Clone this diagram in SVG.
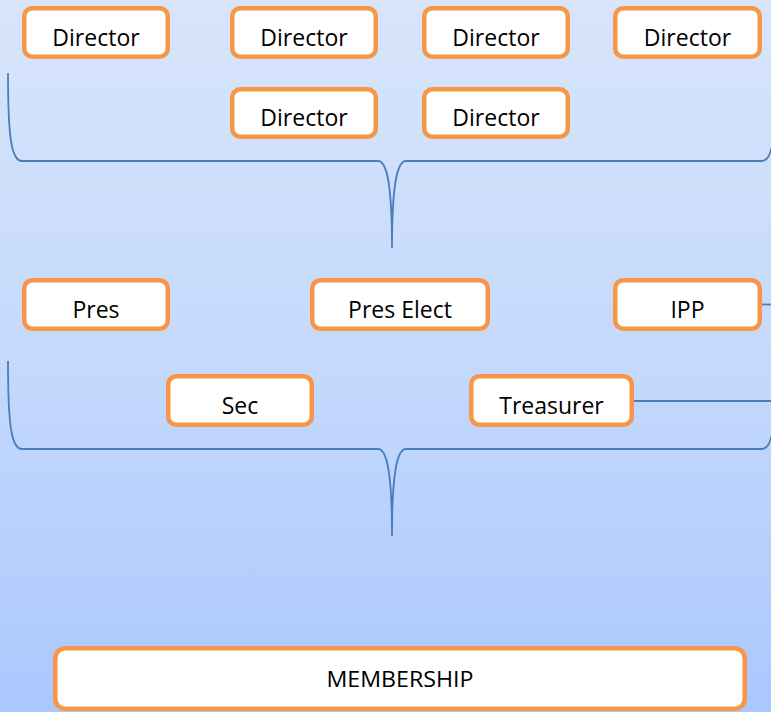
<svg xmlns="http://www.w3.org/2000/svg" width="771" height="712" viewBox="0 0 771 712">
  <defs>
    <linearGradient id="bg" x1="0" y1="0" x2="0" y2="1">
      <stop offset="0" stop-color="#d8e5fb"/>
      <stop offset="0.5" stop-color="#c5d9fc"/>
      <stop offset="1" stop-color="#aac8fe"/>
    </linearGradient>
    <style>
      .box { fill: #ffffff; stroke: #f79646; stroke-width: 4.5; }
      .lbl { font-family: "Open Sans", "Liberation Sans", sans-serif; font-size: 23px; fill: #000000; text-anchor: middle; }
      .mem { font-family: "Open Sans", "Liberation Sans", sans-serif; font-size: 21px; fill: #000000; text-anchor: middle; }
      .conn { fill: none; stroke: #4a7ebb; stroke-width: 1.8; }
    </style>
  </defs>
  <rect x="0" y="0" width="771" height="712" fill="url(#bg)"/>

  <g id="connectors">
    <path class="conn" d="M 8 73 C 8 135, 11 161, 22 161 L 378 161 C 387 161, 392 185, 392 248 C 392 185, 397 161, 406 161 L 762 161 C 773 161, 776 135, 776 73"/>
    <path class="conn" d="M 8 361 C 8 423, 11 449, 22 449 L 378 449 C 387 449, 392 473, 392 536 C 392 473, 397 449, 406 449 L 762 449 C 773 449, 776 423, 776 361"/>
    <line class="conn" x1="762" y1="304.5" x2="771" y2="304.5"/>
    <line class="conn" x1="634" y1="401" x2="771" y2="401"/>
  </g>

  <g id="director1"><rect class="box" x="24.25" y="8.25" width="143.5" height="48.5" rx="8"/><text class="lbl" x="96" y="46">Director</text></g>
  <g id="director2"><rect class="box" x="232.25" y="8.25" width="143.5" height="48.5" rx="8"/><text class="lbl" x="304" y="46">Director</text></g>
  <g id="director3"><rect class="box" x="424.25" y="8.25" width="143.5" height="48.5" rx="8"/><text class="lbl" x="496" y="46">Director</text></g>
  <g id="director4"><rect class="box" x="615.25" y="8.25" width="144.5" height="48.5" rx="8"/><text class="lbl" x="687.5" y="46">Director</text></g>
  <g id="director5"><rect class="box" x="232.25" y="89.25" width="143.5" height="47.5" rx="8"/><text class="lbl" x="304" y="126">Director</text></g>
  <g id="director6"><rect class="box" x="424.25" y="89.25" width="143.5" height="47.5" rx="8"/><text class="lbl" x="496" y="126">Director</text></g>

  <g id="pres"><rect class="box" x="24.25" y="280.25" width="143.5" height="48.5" rx="8"/><text class="lbl" x="96" y="318">Pres</text></g>
  <g id="pres-elect"><rect class="box" x="312.25" y="280.25" width="175.5" height="48.5" rx="8"/><text class="lbl" x="400" y="318">Pres Elect</text></g>
  <g id="ipp"><rect class="box" x="615.25" y="280.25" width="144.5" height="48.5" rx="8"/><text class="lbl" x="687.5" y="318">IPP</text></g>
  <g id="sec"><rect class="box" x="168.25" y="376.25" width="143.5" height="48.5" rx="8"/><text class="lbl" x="240" y="414">Sec</text></g>
  <g id="treasurer"><rect class="box" x="471.25" y="376.25" width="160.5" height="48.5" rx="8"/><text class="lbl" x="551.5" y="414">Treasurer</text></g>

  <g id="membership"><rect class="box" x="55.25" y="648.25" width="689.5" height="60.5" rx="10"/><text class="mem" x="400" y="687" textLength="147" lengthAdjust="spacingAndGlyphs">MEMBERSHIP</text></g>
</svg>
